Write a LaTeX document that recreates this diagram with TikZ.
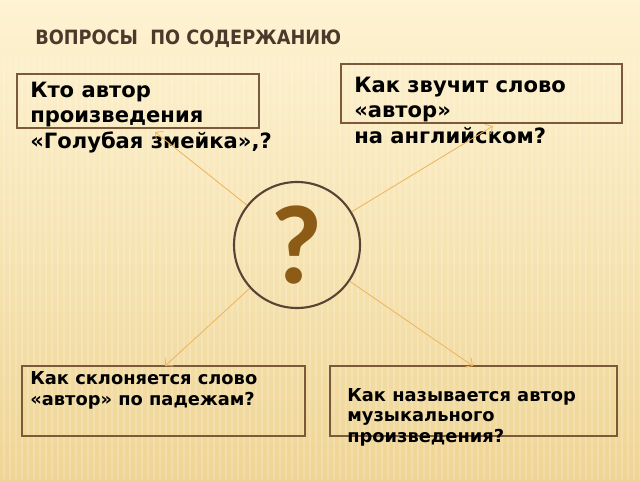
\documentclass[tikz,border=0pt]{standalone}
\usepackage{fontspec}
\setmainfont{DejaVu Sans}
\newfontfamily\titlefont{DejaVu Sans Condensed}
\newfontfamily\markfont{Carlito}
\usepackage{xcolor}
\usetikzlibrary{arrows.meta,positioning}
\definecolor{bgtop}{HTML}{FEF3D2}
\definecolor{bgbottom}{HTML}{EFD595}
\definecolor{boxbrown}{HTML}{7B5A3C}
\definecolor{ringbrown}{HTML}{5A4334}
\definecolor{titlebrown}{HTML}{4B3A2C}
\definecolor{markbrown}{HTML}{8C5C16}
\definecolor{arrowgold}{HTML}{EFB45C}

\begin{document}
\begin{tikzpicture}
        \tikzstyle{q_box}=[draw=boxbrown,line width=1.1pt,inner sep=0pt]
        \tikzstyle{q_text}=[anchor=north west,align=left,inner sep=0pt,font=\bfseries]
        \tikzstyle{q_link}=[-{Straight Barb[length=4pt,width=8pt]},draw=arrowgold,line width=0.6pt]
    \useasboundingbox (0,0) rectangle (16,12);
    \shade[top color=bgtop,bottom color=bgbottom] (0,0) rectangle (16,12);
    \foreach \x in {0.1,0.25,...,16}
        \draw[white,opacity=0.18,line width=0.8pt] (\x,0) -- (\x,10.6);

    \node[anchor=base west,inner sep=0pt,text=titlebrown,font=\titlefont\bfseries\fontsize{14}{16}\selectfont] (title) at (0.875,10.875) {ВОПРОСЫ\ \ ПО СОДЕРЖАНИЮ};

    \node[draw=ringbrown,line width=1.5pt,circle,minimum size=3.15cm,inner sep=0pt] (q) at (7.425,5.875) {};
    \node[text=markbrown,font=\markfont\bfseries\fontsize{80}{80}\selectfont] (q_mark) at (q.center) {?};

    \node[q_box,minimum width=6.05cm,minimum height=1.35cm]  (author)  at (3.45,9.475) {};
    \node[q_box,minimum width=7.025cm,minimum height=1.475cm] (english) at (12.0375,9.6625) {};
    \node[q_box,minimum width=7.075cm,minimum height=1.75cm] (cases)   at (4.0875,1.975) {};
    \node[q_box,minimum width=7.175cm,minimum height=1.75cm] (music)   at (11.8375,1.975) {};

    \node[q_text,font=\bfseries\fontsize{15}{18}\selectfont] (author_t) at (0.75,9.95) {Кто автор\\произведения\\«Голубая змейка»,?};
    \node[q_text,font=\bfseries\fontsize{15}{18}\selectfont] (english_t) at (8.85,10.08) {Как звучит слово\\«автор»\\на английском?};
    \node[q_text,font=\bfseries\fontsize{12.7}{15}\selectfont] (cases_t) at (0.75,2.72) {Как склоняется слово\\«автор» по падежам?};
    \node[q_text,font=\bfseries\fontsize{12.7}{14.6}\selectfont] (music_t) at (8.675,2.3) {Как называется автор\\музыкального\\произведения?};

    \coordinate (tip_tl) at (3.875,8.7);
    \coordinate (tip_tr) at (12.325,8.85);
    \coordinate (tip_bl) at (4.125,2.85);
    \coordinate (tip_br) at (11.825,2.85);

    \path[q_link]
    (q) edge (tip_tl)
    (q) edge (tip_tr)
    (q) edge (tip_bl)
    (q) edge (tip_br);

    \end{tikzpicture}
\end{document}
